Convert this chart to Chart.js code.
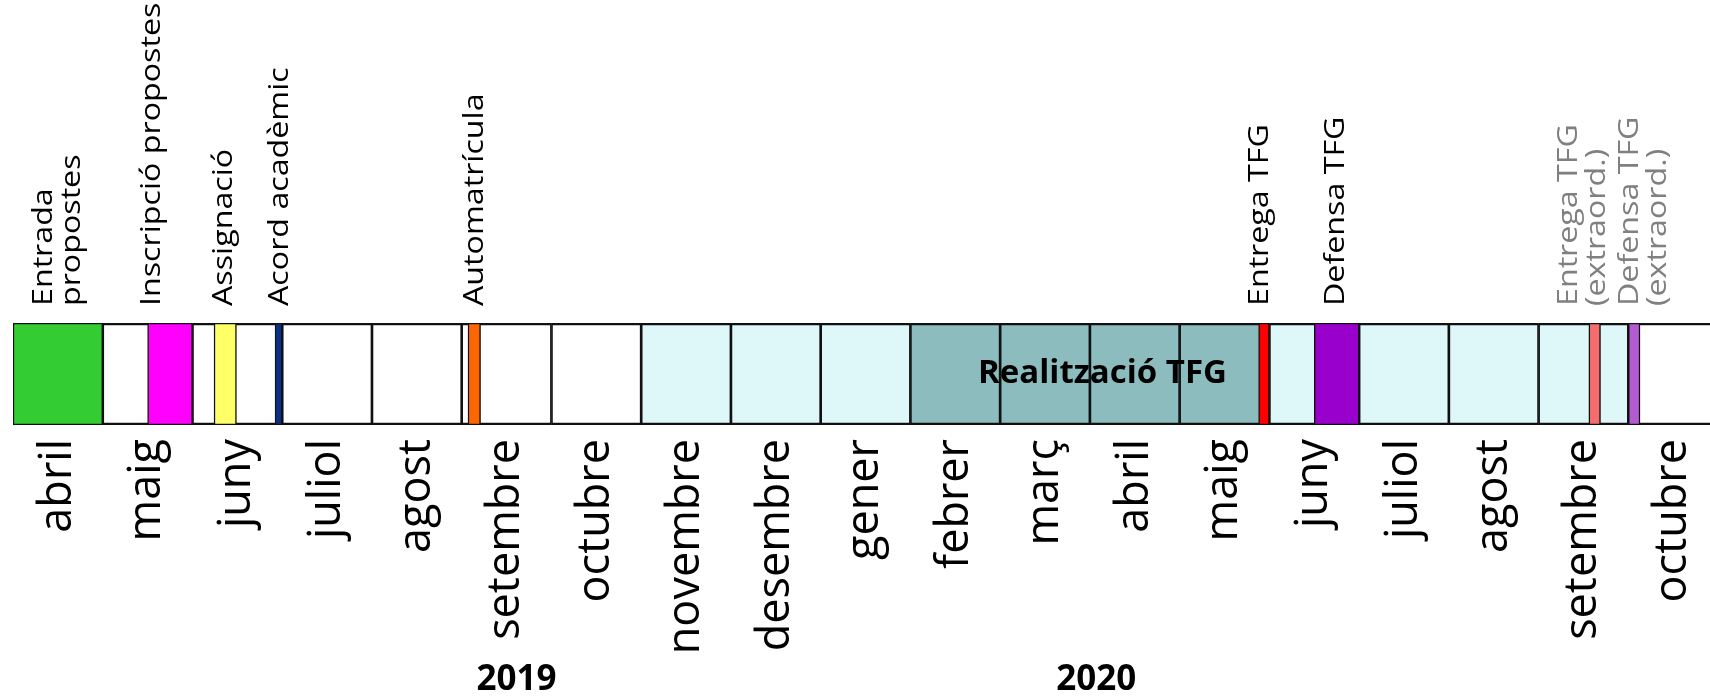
<!DOCTYPE html>
<html>
<head>
<meta charset="utf-8">
<script src="https://cdn.jsdelivr.net/npm/chart.js@4"></script>
<style>
  html, body { margin: 0; padding: 0; background: #fff; overflow: hidden; }
  #wrap { width: 1710px; height: 699px; position: relative; }
</style>
</head>
<body>
<div id="wrap"><canvas id="timeline"></canvas></div>
<script>
// mesos del calendari (abril 2019 - octubre 2020)
const months = ['abril', 'maig', 'juny', 'juliol', 'agost', 'setembre', 'octubre', 'novembre', 'desembre',
  'gener', 'febrer', 'març', 'abril', 'maig', 'juny', 'juliol', 'agost', 'setembre', 'octubre'];
const years = ['2019', '2020'];
const yearAt = [5.61, 12.07];

// fites, en mesos des de l'inici d'abril 2019
const events = ['Entrada\npropostes', 'Inscripció propostes', 'Assignació', 'Acord acadèmic', 'Automatrícula',
  'Entrega TFG', 'Defensa TFG', 'Entrega TFG\n(extraord.)', 'Defensa TFG\n(extraord.)'];
const eventStart = [0, 1.5, 2.24, 2.92, 5.07, 13.88, 14.5, 17.56, 18.0];
const eventEnd = [1, 2.0, 2.49, 3.0, 5.21, 14.0, 15.0, 17.69, 18.13];
const eventLabelAt = [0.5, 1.55, 2.35, 2.98, 5.15, 13.9, 14.74, 17.5, 18.17];

// períodes de fons
const tfgPeriod = [7, 18];
const realitzacio = [10, 13.88];
const realitzacioLabel = 'Realització TFG';
const realitzacioLabelAt = 12.14;

const eventColors = ['#33cc33', '#ff00ff', '#ffff66', '#0a2f88', '#ff6600', '#ff0000', '#9900cc', '#f46c6c', '#b35bd1'];
const row = 'timeline';

const textPlugin = {
    id: 'timelineText',
    afterDraw(chart) {
        const { ctx, chartArea, scales: { x } } = chart;
        ctx.save();

        // etiquetes de les fites (verticals, a sobre)
        ctx.font = '28px "Open Sans"';
        events.forEach((label, i) => {
            const lines = label.split('\n');
            const cx = x.getPixelForValue(eventLabelAt[i]);
            ctx.fillStyle = label.includes('extraord.') ? '#808080' : '#000';
            lines.forEach((line, j) => {
                const off = (j - (lines.length - 1) / 2) * 28;
                ctx.save();
                ctx.translate(cx + off, chartArea.top - 17);
                ctx.rotate(-Math.PI / 2);
                ctx.scale(1.15, 1);
                ctx.textAlign = 'left';
                ctx.textBaseline = 'middle';
                ctx.fillText(line, 0, 0);
                ctx.restore();
            });
        });

        // Realització TFG
        ctx.fillStyle = '#000';
        ctx.font = 'bold 33px "Open Sans"';
        ctx.textAlign = 'center';
        ctx.textBaseline = 'middle';
        ctx.fillText(realitzacioLabel, x.getPixelForValue(realitzacioLabelAt), (chartArea.top + chartArea.bottom) / 2);

        // anys
        ctx.font = 'bold 35px "Open Sans"';
        years.forEach((yr, i) => {
            ctx.fillText(yr, x.getPixelForValue(yearAt[i]), 680);
        });

        ctx.restore();
    }
};

new Chart(document.getElementById('timeline'), {
    type: 'bar',
    data: {
        labels: [row],
        datasets: [
            {
                data: events.map((e, i) => ({ x: [eventStart[i], eventEnd[i]], y: row })),
                backgroundColor: eventColors,
                borderColor: '#111',
                borderWidth: 1.5,
                borderSkipped: false,
                order: 0
            },
            {
                data: months.map((m, i) => ({ x: [i, i + 1], y: row })),
                backgroundColor: 'rgba(0,0,0,0)',
                borderColor: '#111',
                borderWidth: { left: 1, right: 1, top: 2, bottom: 2 },
                borderSkipped: false,
                order: 1
            },
            {
                data: [{ x: tfgPeriod, y: row }, { x: realitzacio, y: row }],
                backgroundColor: ['#def7f8', '#8cbcbe'],
                borderWidth: 0,
                order: 2
            }
        ]
    },
    options: {
        indexAxis: 'y',
        responsive: true,
        maintainAspectRatio: false,
        animation: false,
        layout: { padding: { left: 13, right: 0, top: 323, bottom: 0 } },
        datasets: { bar: { grouped: false, barPercentage: 1, categoryPercentage: 1 } },
        plugins: { legend: { display: false }, tooltip: { enabled: false } },
        scales: {
            x: {
                type: 'linear',
                min: 0,
                max: 18.91,
                position: 'bottom',
                grid: { display: false, drawTicks: false },
                border: { display: false },
                afterBuildTicks: s => { s.ticks = months.map((m, i) => ({ value: i + 0.5 })); },
                afterFit: s => { s.height = 274; s.paddingLeft = 0; s.paddingRight = 0; },
                ticks: {
                    autoSkip: false,
                    minRotation: 90,
                    maxRotation: 90,
                    padding: 14,
                    color: '#000',
                    font: { family: 'Open Sans', size: 45 },
                    callback: (v, i) => months[i]
                }
            },
            y: { type: 'category', labels: [row], display: false }
        }
    },
    plugins: [textPlugin]
});
</script>
</body>
</html>
